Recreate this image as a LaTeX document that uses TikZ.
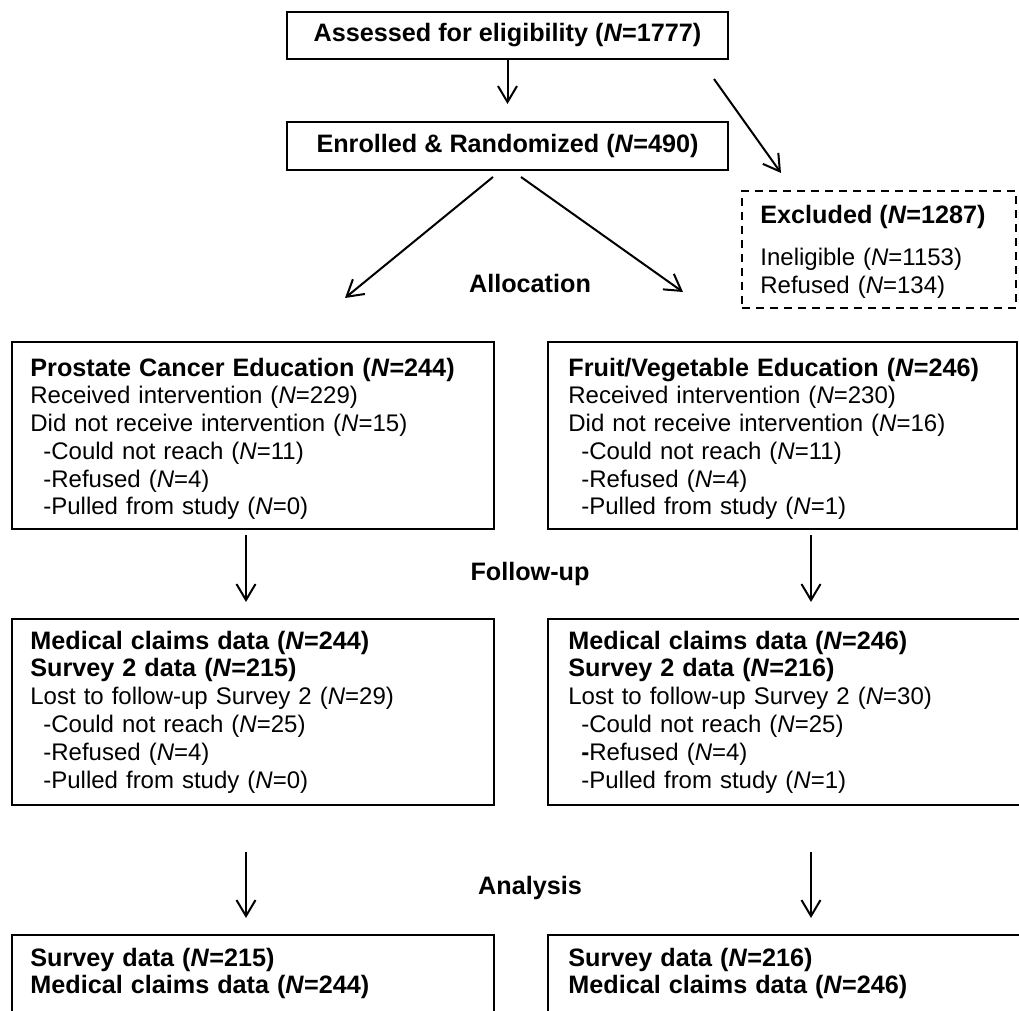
\documentclass[tikz,border=0pt]{standalone}
\usepackage{fontspec}
\setmainfont{Liberation Sans}
\usetikzlibrary{arrows.meta}
\begin{document}
\begin{tikzpicture}[x=0.5pt,y=-0.5pt,
  box/.style={draw, line width=1pt, inner sep=0pt},
  dbox/.style={draw, line width=0.8pt, dash pattern=on 4pt off 3pt, inner sep=0pt},
  hd/.style={font=\fontsize{12.6}{13.9}\selectfont\bfseries, inner sep=0pt},
  body/.style={font=\fontsize{12}{13.9}\selectfont, inner sep=0pt, anchor=base west, align=left, text width=230pt},
  arr/.style={line width=1pt, -{Straight Barb[length=8pt,width=9.5pt]}}]

\useasboundingbox (0,0) rectangle (1019,1011);
\clip (0,0) rectangle (1019,1011);

% top boxes
\node[box, hd, minimum width=220.5pt, minimum height=23.5pt] (A) at (507.5,35.5) {Assessed for eligibility (\textit{N}=1777)};
\node[box, hd, minimum width=220.5pt, minimum height=24pt] (B) at (507.5,146) {Enrolled \& Randomized (\textit{N}=490)};

% excluded
\node[dbox, minimum width=137pt, minimum height=58.5pt] (C) at (879,249.5) {};
\node[hd, anchor=base west] (Ct1) at (760,224) {Excluded (\textit{N}=1287)};
\node[body] (Ct2) at (760,266) {Ineligible (\textit{N}=1153)\\Refused (\textit{N}=134)};

% allocation boxes
\node[box, minimum width=241pt, minimum height=93.5pt] (D) at (253,435.5) {};
\node[body] (Dt) at (30,376) {{\bfseries\fontsize{12.6}{13.9}\selectfont Prostate Cancer Education (\textit{N}=244)}\\
Received intervention (\textit{N}=229)\\
Did not receive intervention (\textit{N}=15)\\
\hspace*{6.5pt}-Could not reach (\textit{N}=11)\\
\hspace*{6.5pt}-Refused (\textit{N}=4)\\
\hspace*{6.5pt}-Pulled from study (\textit{N}=0)};

\node[box, minimum width=234.5pt, minimum height=93.5pt] (E) at (782.5,435.5) {};
\node[body] (Et) at (568,376) {{\bfseries\fontsize{12.6}{13.9}\selectfont Fruit/Vegetable Education (\textit{N}=246)}\\
Received intervention (\textit{N}=230)\\
Did not receive intervention (\textit{N}=16)\\
\hspace*{6.5pt}-Could not reach (\textit{N}=11)\\
\hspace*{6.5pt}-Refused (\textit{N}=4)\\
\hspace*{6.5pt}-Pulled from study (\textit{N}=1)};

% follow-up boxes
\node[box, minimum width=241pt, minimum height=93pt] (F) at (253,711.5) {};
\node[body] (Ft) at (30,649) {{\bfseries\fontsize{12.6}{13.9}\selectfont Medical claims data (\textit{N}=244)}\\
{\bfseries\fontsize{12.6}{13.9}\selectfont Survey 2 data (\textit{N}=215)}\\
Lost to follow-up Survey 2 (\textit{N}=29)\\
\hspace*{6.5pt}-Could not reach (\textit{N}=25)\\
\hspace*{6.5pt}-Refused (\textit{N}=4)\\
\hspace*{6.5pt}-Pulled from study (\textit{N}=0)};

\node[box, minimum width=241pt, minimum height=93pt] (G) at (789,711.5) {};
\node[body] (Gt) at (568,649) {{\bfseries\fontsize{12.6}{13.9}\selectfont Medical claims data (\textit{N}=246)}\\
{\bfseries\fontsize{12.6}{13.9}\selectfont Survey 2 data (\textit{N}=216)}\\
Lost to follow-up Survey 2 (\textit{N}=30)\\
\hspace*{6.5pt}-Could not reach (\textit{N}=25)\\
\hspace*{6.5pt}\textbf{-}Refused (\textit{N}=4)\\
\hspace*{6.5pt}-Pulled from study (\textit{N}=1)};

% analysis boxes
\node[box, minimum width=241pt, minimum height=93pt] (H) at (253,1028) {};
\node[body] (Ht) at (30,966) {{\bfseries\fontsize{12.6}{13.9}\selectfont Survey data (\textit{N}=215)}\\
{\bfseries\fontsize{12.6}{13.9}\selectfont Medical claims data (\textit{N}=244)}};

\node[box, minimum width=241pt, minimum height=93pt] (I) at (789,1028) {};
\node[body] (It) at (568,966) {{\bfseries\fontsize{12.6}{13.9}\selectfont Survey data (\textit{N}=216)}\\
{\bfseries\fontsize{12.6}{13.9}\selectfont Medical claims data (\textit{N}=246)}};

% stage labels
\node[hd] (L1) at (530,283) {Allocation};
\node[hd] (L2) at (530,574) {Follow-up};
\node[hd] (L3) at (530,888) {Analysis};

% connector ends
\coordinate (x1) at (714,79);
\coordinate (x2) at (781,173);
\coordinate (l1) at (493,177);
\coordinate (l2) at (345,298);
\coordinate (r1) at (521,177);
\coordinate (r2) at (683,292);
\coordinate (f1) at (246,535);
\coordinate (f2) at (246,602);
\coordinate (g1) at (811,535);
\coordinate (g2) at (811,602);
\coordinate (h1) at (246,852);
\coordinate (h2) at (246,918);
\coordinate (i1) at (811,852);
\coordinate (i2) at (811,918);

\draw[arr, shorten >=8.5pt] (A.south) -- (B.north);
\draw[arr] (x1) -- (x2);
\draw[arr] (l1) -- (l2);
\draw[arr] (r1) -- (r2);
\draw[arr] (f1) -- (f2);
\draw[arr] (g1) -- (g2);
\draw[arr] (h1) -- (h2);
\draw[arr] (i1) -- (i2);
\end{tikzpicture}
\end{document}
